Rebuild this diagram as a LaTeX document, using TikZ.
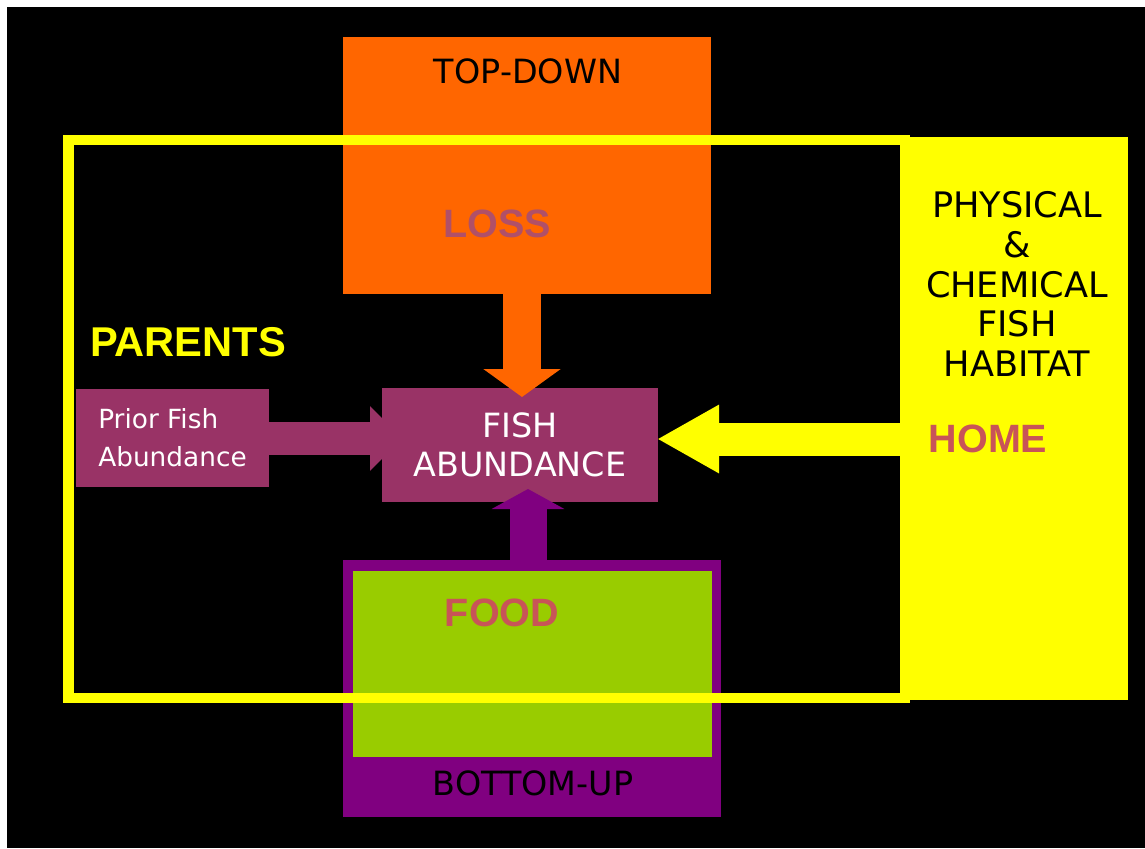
\documentclass[tikz,border=0pt]{standalone}
\usepackage{fontspec}
\setmainfont{DejaVu Sans}
\newfontfamily\arialfont{Liberation Sans}
\usetikzlibrary{arrows.meta}

\definecolor{topdownorange}{HTML}{FF6600}
\definecolor{habitatyellow}{HTML}{FFFF00}
\definecolor{bottomuppurple}{HTML}{800080}
\definecolor{foodgreen}{HTML}{99CC00}
\definecolor{fishmauve}{HTML}{993366}
\definecolor{losstext}{RGB}{176,80,104}
\definecolor{homered}{RGB}{200,84,88}

\begin{document}
\begin{tikzpicture}[x=0.02cm, y=-0.02cm,
    panel/.style={rectangle, inner sep=0pt, draw=none},
    handtext/.style={font=\fontsize{19}{22}\selectfont},
    boldlab/.style={font=\arialfont\bfseries\fontsize{22.5}{26}\selectfont},
    blockarrow/.style={line cap=butt}]
        % Background
        \useasboundingbox (0,0) rectangle (1145,848);
        \fill[white] (0,0) rectangle (1145,848);
        \fill[black] (7,7) rectangle (1145,848);

        % Nodes
        \node[panel, fill=topdownorange, minimum width=7.36cm, minimum height=5.14cm] (topdown) at (527,165.5) {};
        \node[panel, fill=bottomuppurple, minimum width=7.56cm, minimum height=5.14cm] (bottomup) at (532,688.5) {};
        \node[panel, fill=foodgreen, minimum width=7.18cm, minimum height=3.72cm] (food) at (532.5,664) {};
        \node[panel, fill=habitatyellow, minimum width=4.5cm, minimum height=11.26cm] (habitat) at (1015.5,418.5) {};
        \draw[habitatyellow, line width=0.21cm] (68.5,140) rectangle (905,698);
        \node[panel, fill=fishmauve, minimum width=3.86cm, minimum height=1.96cm] (prior) at (172.5,438) {};
        \node[panel, fill=fishmauve, minimum width=5.52cm, minimum height=2.28cm] (fish) at (520,445) {};

        % Edges
        \coordinate (losstip) at (522,397);
        \coordinate (foodtip) at (528,489);
        \coordinate (priortip) at (402,438.5);
        \coordinate (hometip) at (657,439);
        \draw[blockarrow, topdownorange, line width=0.76cm, -{Triangle[width=1.52cm, length=0.56cm]}] (topdown.south -| losstip) -- (losstip);
        \draw[blockarrow, bottomuppurple, line width=0.74cm, -{Triangle[width=1.44cm, length=0.4cm]}] (bottomup.north -| foodtip) -- (foodtip);
        \draw[blockarrow, fishmauve, line width=0.66cm, -{Triangle[width=1.26cm, length=0.64cm]}] (prior.east |- priortip) -- (priortip);
        \draw[blockarrow, habitatyellow, line width=0.66cm, -{Triangle[width=1.28cm, length=1.24cm]}] (habitat.west |- hometip) -- (hometip);

        % Labels
        \node[handtext] (topdownlab) at (528,71) {TOP-DOWN};
        \node[boldlab, text=losstext] (losslab) at (497,224) {LOSS};
        \node[boldlab, text=habitatyellow, font=\arialfont\bfseries\fontsize{23.7}{27}\selectfont] (parentslab) at (188,342) {PARENTS};
        \node[handtext, font=\fontsize{15}{21.5}\selectfont, text=white, align=left] (priorlab) at (prior.center) {Prior Fish\\Abundance};
        \node[handtext, text=white, align=center, font=\fontsize{19}{22}\selectfont] (fishlab) at (fish.center) {FISH\\ABUNDANCE};
        \node[handtext, align=center, font=\fontsize{20}{22.7}\selectfont] (habitatlab) at (1017,284) {PHYSICAL\\\&\\CHEMICAL\\FISH\\HABITAT};
        \node[boldlab, text=homered] (homelab) at (988,439) {HOME};
        \node[boldlab, text=homered] (foodlab) at (502,613) {FOOD};
        \node[handtext] (bottomuplab) at (533,783) {BOTTOM-UP};
    \end{tikzpicture}
\end{document}
